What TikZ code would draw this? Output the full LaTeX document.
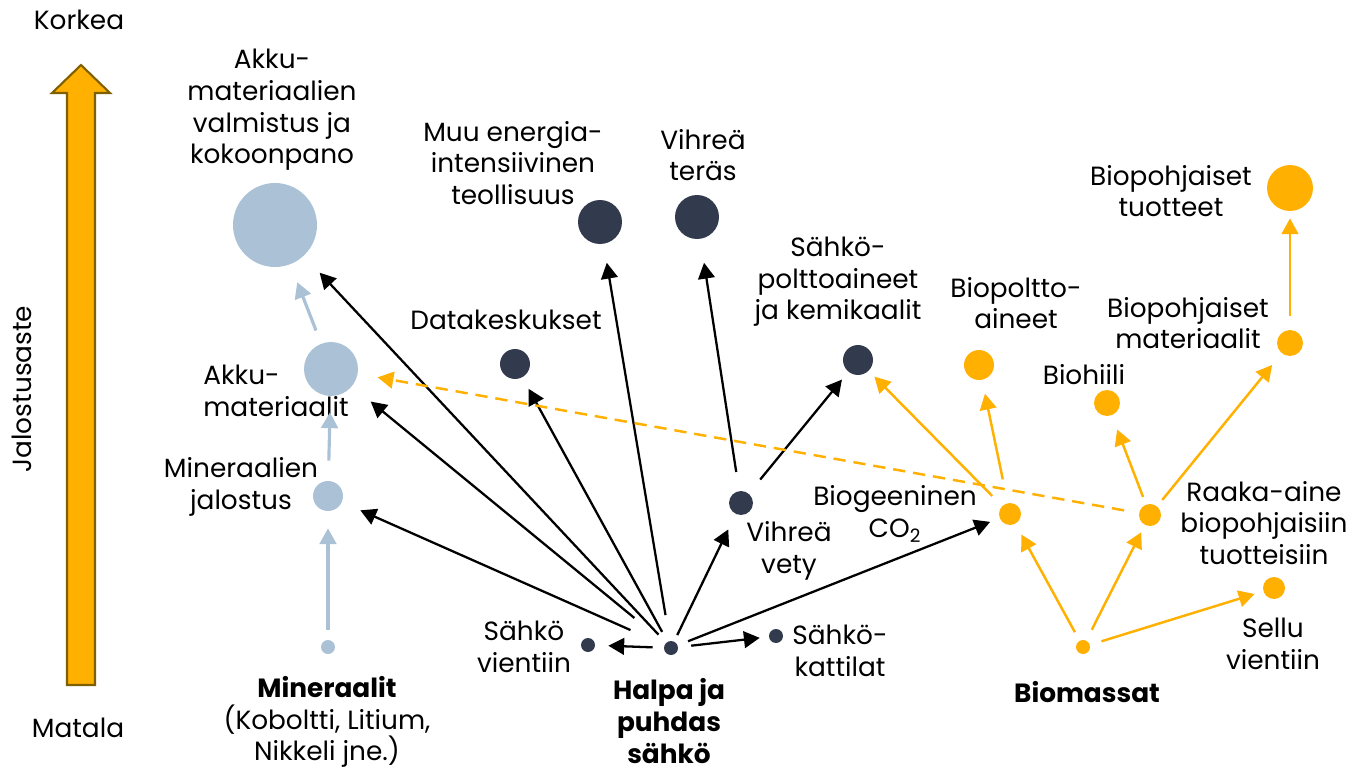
\documentclass[tikz,border=0pt]{standalone}
\usepackage{fontspec}
\setmainfont{Poppins}
\usetikzlibrary{arrows.meta}
\definecolor{navy}{RGB}{50,58,77}
\definecolor{steel}{RGB}{170,193,214}
\definecolor{amber}{RGB}{255,176,0}
\definecolor{umber}{RGB}{127,96,0}

\begin{document}
\begin{tikzpicture}[x=0.02cm, y=-0.02cm, >={Triangle[length=9pt,width=9.5pt]},
    blob/.style={circle, inner sep=0pt, minimum size=#1*0.04cm},
    lbl/.style={font=\fontsize{15}{18}\selectfont, align=center, inner sep=0pt},
    elarrow/.style={->, black, line width=1.3pt},
    bioarrow/.style={->, amber, line width=1.4pt},
    minarrow/.style={->, steel, line width=1.8pt}]
    \useasboundingbox (0,0) rectangle (1347,771); % page

    % scale on the left
    \draw[umber, fill=amber, line width=1.2pt] (67,685) -- (95,685) -- (95,93) -- (110,93) -- (81,65) -- (52,93) -- (67,93) -- cycle; % big arrow
    \node[lbl] (korkea) at (79,20) {Korkea}; % top
    \node[lbl] (matala) at (78,728) {Matala}; % bottom
    \node[lbl, rotate=90] (aste) at (22,389) {Jalostusaste}; % axis name

    % minerals
    \node[blob=7, fill=steel] (mineraalit) at (328,647) {};
    \node[blob=15, fill=steel] (jalostus) at (328,496) {};
    \node[blob=27, fill=steel] (akkumat) at (331,369) {};
    \node[blob=42, fill=steel] (valmistus) at (275,225) {};
    \node[lbl] (mineraalitL) at (327,722) {\bfseries Mineraalit\\(Koboltti, Litium,\\Nikkeli jne.)};
    \node[lbl] (jalostusL) at (241,487) {Mineraalien\\jalostus};
    \node[lbl, align=left, anchor=west] (akkumatL) at (203,391) {Akku-\\materiaalit};
    \node[lbl] (valmistusL) at (272,110) {Akku-\\materiaalien\\valmistus ja\\kokoonpano};

    % electricity
    \node[blob=7, fill=navy] (halpa) at (671,648) {};
    \node[blob=7, fill=navy] (vientiin) at (588,645) {};
    \node[blob=7, fill=navy] (kattilat) at (776,636) {};
    \node[blob=12, fill=navy] (vety) at (741,503) {};
    \node[blob=15, fill=navy] (data) at (515,364) {};
    \node[blob=22, fill=navy] (muu) at (600,222) {};
    \node[blob=22, fill=navy] (teras) at (697,217) {};
    \node[blob=15, fill=navy] (spolt) at (858,360) {};
    \node[lbl] (halpaL) at (669,721) {\bfseries Halpa ja\\\bfseries puhdas\\\bfseries sähkö};
    \node[lbl] (vientiinL) at (524,647) {Sähkö\\vientiin};
    \node[lbl] (kattilatL) at (840,651) {Sähkö-\\kattilat};
    \node[lbl] (vetyL) at (789,551) {Vihreä\\vety};
    \node[lbl] (dataL) at (506,320) {Datakeskukset};
    \node[lbl] (muuL) at (513,163) {Muu energia-\\intensiivinen\\teollisuus};
    \node[lbl] (terasL) at (703,155) {Vihreä\\teräs};
    \node[lbl] (spoltL) at (838,282) {Sähkö-\\polttoaineet\\ja kemikaalit};

    % biomass
    \node[blob=7, fill=amber] (biomassat) at (1083,647) {};
    \node[blob=11, fill=amber] (co2) at (1010,514) {};
    \node[blob=11, fill=amber] (raaka) at (1150,515) {};
    \node[blob=11, fill=amber] (sellu) at (1274,588) {};
    \node[blob=15, fill=amber] (biopolt) at (979,365) {};
    \node[blob=13, fill=amber] (biohiili) at (1107,403) {};
    \node[blob=13, fill=amber] (biomat) at (1290,343) {};
    \node[blob=23, fill=amber] (biotuot) at (1290,188) {};
    \node[lbl] (biomassatL) at (1087,692) {\bfseries Biomassat};
    \node[lbl] (co2L) at (895,514) {Biogeeninen\\CO\textsubscript{2}};
    \node[lbl] (raakaL) at (1264,523) {Raaka-aine\\biopohjaisiin\\tuotteisiin};
    \node[lbl] (selluL) at (1273,644) {Sellu\\vientiin};
    \node[lbl] (biopoltL) at (1016,303) {Biopoltto-\\aineet};
    \node[lbl] (biohiiliL) at (1084,375) {Biohiili};
    \node[lbl] (biomatL) at (1188,323) {Biopohjaiset\\materiaalit};
    \node[lbl] (biotuotL) at (1171,191) {Biopohjaiset\\tuotteet};

    % mineral chain
    \draw[minarrow, shorten <=2mm, shorten >=3.4mm] (mineraalit) -- (jalostus); % refining
    \draw[minarrow, shorten <=4mm, shorten >=3.2mm] (jalostus) -- (akkumat); % materials
    \draw[minarrow, shorten <=2.8mm, shorten >=3.8mm] (akkumat) -- (valmistus); % assembly

    % electricity use
    \draw[elarrow, shorten <=7.4mm, shorten >=4mm] (halpa) -- (jalostus);
    \draw[elarrow, shorten <=8mm, shorten >=4.8mm] (halpa) -- (akkumat);
    \draw[elarrow, shorten <=2.2mm, shorten >=4.6mm] (halpa) -- (valmistus);
    \draw[elarrow, shorten <=2.2mm, shorten >=2.6mm] (halpa) -- (data);
    \draw[elarrow, shorten <=5.2mm, shorten >=3.8mm] (halpa) -- (muu);
    \draw[elarrow, shorten <=1.4mm, shorten >=3.4mm] (halpa) -- (vety);
    \draw[elarrow, shorten <=2.2mm, shorten >=2mm] (halpa) -- (co2);
    \draw[elarrow, shorten <=2.6mm, shorten >=1.8mm] (halpa) -- (kattilat);
    \draw[elarrow, shorten <=2.2mm, shorten >=2.6mm] (halpa) -- (vientiin);
    \draw[elarrow, shorten <=3.8mm, shorten >=4.8mm] (vety) -- (teras);
    \draw[elarrow, shorten <=3.6mm, shorten >=2mm] (vety) -- (spolt);

    % biomass use
    \draw[bioarrow, shorten <=1.9mm, shorten >=2.4mm] (biomassat) -- (co2);
    \draw[bioarrow, shorten <=2.4mm, shorten >=1.6mm] (biomassat) -- (raaka);
    \draw[bioarrow, shorten <=2.4mm, shorten >=1.8mm] (biomassat) -- (sellu);
    \draw[bioarrow, shorten <=4.8mm, shorten >=2.8mm] (co2) -- (biopolt);
    \draw[bioarrow, shorten <=2.8mm, shorten >=1.6mm] (co2) -- (spolt);
    \draw[bioarrow, shorten <=1.6mm, shorten >=3mm] (raaka) -- (biohiili);
    \draw[bioarrow, shorten <=1.6mm, shorten >=3mm] (raaka) -- (biomat);
    \draw[bioarrow, shorten <=2.8mm, shorten >=1.4mm] (biomat) -- (biotuot);
    \draw[bioarrow, dash pattern=on 7pt off 4.5pt, shorten <=3mm, shorten >=4mm] (raaka) -- (akkumat); % dashed link
\end{tikzpicture}
\end{document}
